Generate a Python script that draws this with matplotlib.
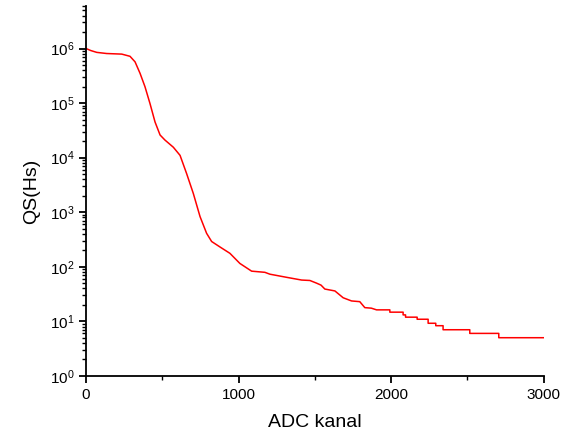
import matplotlib
matplotlib.use('Agg')
from matplotlib import pyplot as plt
from matplotlib.ticker import LogLocator, MultipleLocator

plt.rcParams['font.family'] = ['Liberation Sans', 'DejaVu Sans']
plt.rcParams['mathtext.fontset'] = 'custom'
plt.rcParams['mathtext.rm'] = 'Liberation Sans'
plt.rcParams['mathtext.it'] = 'Liberation Sans'

# ADC channel vs QS(Hs) (tail has step edges)
channel = [0, 30, 70, 135, 234, 288, 321, 354, 386, 419, 452, 485, 517,
           572, 616, 659, 703, 747, 790, 823, 878, 943, 1008, 1085, 1172,
           1205, 1314, 1413, 1467, 1511, 1540, 1565, 1631, 1685, 1740,
           1794, 1827, 1870, 1904,
           1991, 1991, 2078, 2078, 2094, 2094, 2170, 2170, 2242, 2242,
           2292, 2292, 2340, 2340, 2515, 2515, 2705, 2705, 3000]
qs = [1.0e6, 9.2e5, 8.5e5, 8.1e5, 7.9e5, 7.2e5, 5.7e5, 3.5e5, 2.0e5,
      9.8e4, 4.5e4, 2.6e4, 2.1e4, 1.55e4, 1.1e4, 5.1e3, 2.2e3, 8.3e2,
      4.1e2, 2.9e2, 2.3e2, 1.76e2, 1.15e2, 83, 79, 73, 64, 57, 56, 50,
      46, 39, 36, 27, 23.6, 22.9, 17.8, 17.4, 16.2,
      16.2, 14.7, 14.7, 13.1, 13.1, 11.9, 11.9, 10.9, 10.9, 9.2,
      9.2, 8.3, 8.3, 7.0, 7.0, 6.0, 6.0, 5.0, 5.0]

def main():
    fig = plt.figure(figsize=(5.7, 4.34), dpi=100)
    ax = fig.add_axes([0.151, 0.134, 0.803, 0.852])
    ax.plot(channel, qs, color='#ff0000', lw=1.1)
    ax.set_yscale('log')
    ax.set_xlim(0, 3000)
    ax.set_ylim(1, 6e6)
    ax.xaxis.set_major_locator(MultipleLocator(1000))
    ax.xaxis.set_minor_locator(MultipleLocator(500))
    ax.yaxis.set_major_locator(LogLocator(base=10, numticks=10))
    ax.yaxis.set_minor_locator(LogLocator(base=10, subs=range(2, 10), numticks=20))
    for s in ['top', 'right']:
        ax.spines[s].set_visible(False)
    for s in ['left', 'bottom']:
        ax.spines[s].set_linewidth(1.3)
    ax.tick_params(which='major', direction='out', length=5, width=1.3, labelsize=11)
    ax.tick_params(which='minor', direction='out', length=3, width=1.0)
    ax.set_xlabel('ADC kanal', fontsize=14, labelpad=9)
    ax.set_ylabel('QS(Hs)', fontsize=14, labelpad=7)
    fig.savefig('out.png', dpi=100)

if __name__ == '__main__':
    main()
